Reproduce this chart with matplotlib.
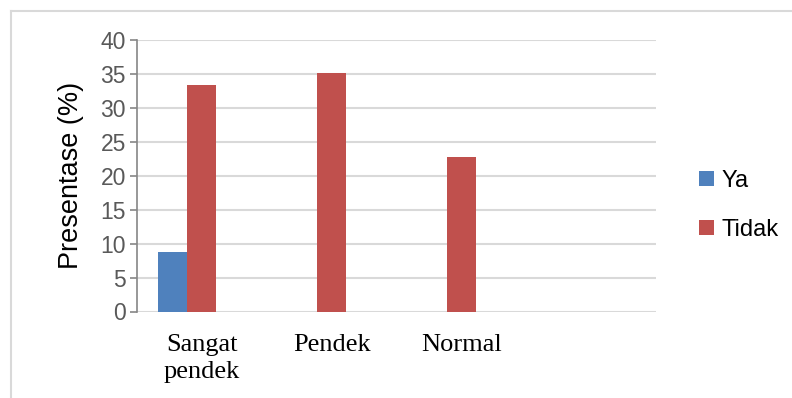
import matplotlib
matplotlib.use("Agg")
import matplotlib.pyplot as plt
import numpy as np
from matplotlib.lines import Line2D

categories = ["Sangat\npendek", "Pendek", "Normal", ""]
series_names = ["Ya", "Tidak", ""]
ya = [8.8, 0, 0, 0]
tidak = [33.4, 35.2, 22.8, 0]
empty = [0, 0, 0, 0]
yticks = [0, 5, 10, 15, 20, 25, 30, 35, 40]
colors = ["#4f81bd", "#c0504d", "#9bbb59"]

fig = plt.figure(figsize=(7.92, 3.98), dpi=100)
ax = fig.add_axes([137/792, 1-311.5/398, (656-137)/792, (311.5-40)/398])

x = np.arange(len(categories))
w = 0.223
vals = [ya, tidak, empty]
for i, (v, c, name) in enumerate(zip(vals, colors, series_names)):
    if name:
        ax.bar(x + (i-1)*w, v, width=w, color=c, label=name, zorder=3, linewidth=0)

ax.set_xlim(-0.5, len(categories)-0.5)
ax.set_ylim(0, 40)
ax.set_yticks(yticks)
ax.set_yticklabels([str(t) for t in yticks], fontsize=16.5, color="#595959", family="Liberation Sans")
ax.set_xticks(x)
ax.set_xticklabels(categories, fontsize=19, family="Liberation Serif", color="#000000", linespacing=1.25)
ax.tick_params(axis="x", length=0, pad=16.5)
ax.tick_params(axis="y", length=5, color="#868686", width=1.2, pad=3)
ax.grid(axis="y", color="#d9d9d9", linewidth=1.5, zorder=0)
for s in ["top", "right", "bottom"]:
    ax.spines[s].set_visible(False)
ax.spines["left"].set_color("#868686")
ax.spines["left"].set_linewidth(1.2)
ax.set_ylabel("Presentase (%)", fontsize=19.5, family="Liberation Sans", color="#000000", labelpad=12)

leg = fig.legend(loc="center left", bbox_to_anchor=(690/792, 1-205.5/398), frameon=False,
                 prop={"family": "Liberation Sans", "size": 17}, handlelength=0.6, handleheight=0.6,
                 handletextpad=0.35, labelspacing=1.15, borderaxespad=0)

fig.add_artist(Line2D([10.5/792, 10.5/792], [0, 1-10.5/398], color="#d9d9d9", linewidth=1.5, transform=fig.transFigure))
fig.add_artist(Line2D([10.5/792, 1], [1-10.5/398, 1-10.5/398], color="#d9d9d9", linewidth=1.5, transform=fig.transFigure))

fig.savefig("out.png", dpi=100)
